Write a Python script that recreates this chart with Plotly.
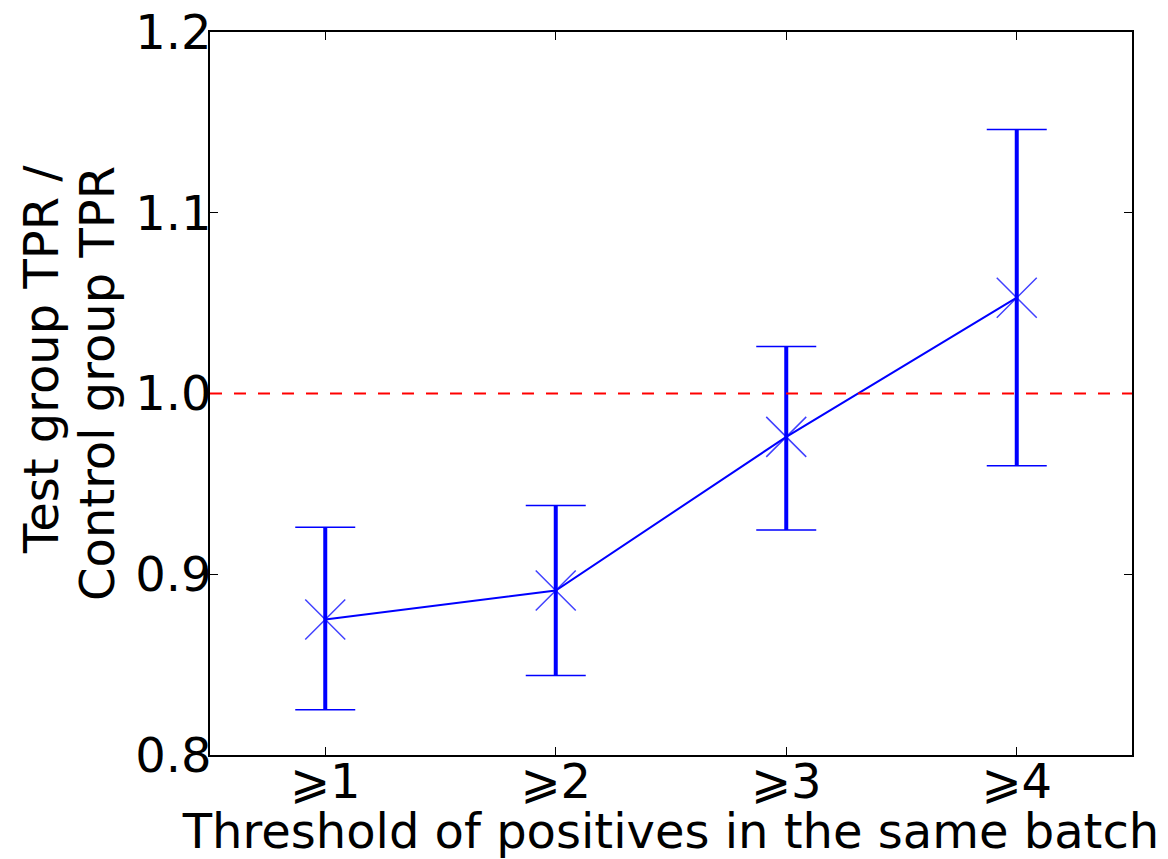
import plotly.graph_objects as go

categories = ["⩾1", "⩾2", "⩾3", "⩾4"]
x_pos = [1, 2, 3, 4]
ratio = [0.875, 0.891, 0.976, 1.053]
err_upper = [0.926, 0.938, 1.026, 1.146]
err_lower = [0.825, 0.844, 0.9245, 0.960]
y_ticks = [0.8, 0.9, 1.0, 1.1, 1.2]
reference_level = 1.0
y_title_lines = ["Test group TPR /", "Control group TPR"]
x_title = "Threshold of positives in the same batch"

plus = [u - v for u, v in zip(err_upper, ratio)]
minus = [v - l for v, l in zip(ratio, err_lower)]

fig = go.Figure()

# thick vertical error bar stems
fig.add_trace(go.Scatter(
    x=x_pos, y=ratio, mode="markers",
    marker=dict(size=0.1, color="rgba(0,0,0,0)"),
    error_y=dict(type="data", symmetric=False, array=plus, arrayminus=minus,
                 color="blue", thickness=4, width=0),
    showlegend=False, hoverinfo="skip"))

# thin caps
fig.add_trace(go.Scatter(
    x=x_pos, y=ratio, mode="markers",
    marker=dict(size=0.1, color="rgba(0,0,0,0)"),
    error_y=dict(type="data", symmetric=False, array=plus, arrayminus=minus,
                 color="blue", thickness=1.5, width=30),
    showlegend=False, hoverinfo="skip"))

# line with x markers
fig.add_trace(go.Scatter(
    x=x_pos, y=ratio, mode="lines+markers",
    line=dict(color="blue", width=2),
    marker=dict(symbol="x-thin", size=40, line=dict(color="rgba(0,0,255,0.75)", width=1.5)),
    showlegend=False))

fig.add_hline(y=reference_level, line=dict(color="red", width=2, dash="12px,12px"))

axis_common = dict(
    showline=True, linecolor="black", linewidth=1.5, mirror="ticks",
    ticks="inside", ticklen=8, tickwidth=1, tickcolor="black",
    showgrid=False, zeroline=False, automargin=False,
    ticklabeloverflow="allow",
    tickfont=dict(size=48, color="black"),
)

fig.update_xaxes(
    range=[0.5, 4.5], tickvals=x_pos, ticktext=categories,
    ticklabelstandoff=-16,
    title=dict(text=x_title, font=dict(size=48, color="black"), standoff=20),
    **axis_common)
fig.update_yaxes(
    range=[0.8, 1.2], tickvals=y_ticks, ticktext=[f"{v:.1f}" for v in y_ticks],
    ticklabelstandoff=-13,
    **axis_common)

for txt, xp, yp in zip(y_title_lines, [-0.1833, -0.1226], [0.5477, 0.5145]):
    fig.add_annotation(text=txt, xref="paper", yref="paper", x=xp, y=yp,
                       xanchor="center", yanchor="middle", textangle=-90,
                       showarrow=False, font=dict(size=48, color="black"))

fig.update_layout(
    width=1160, height=851,
    margin=dict(l=202, r=36, t=24, b=104),
    plot_bgcolor="white", paper_bgcolor="white",
    font=dict(family="DejaVu Sans", color="black"),
)

fig.write_html("out.html")
